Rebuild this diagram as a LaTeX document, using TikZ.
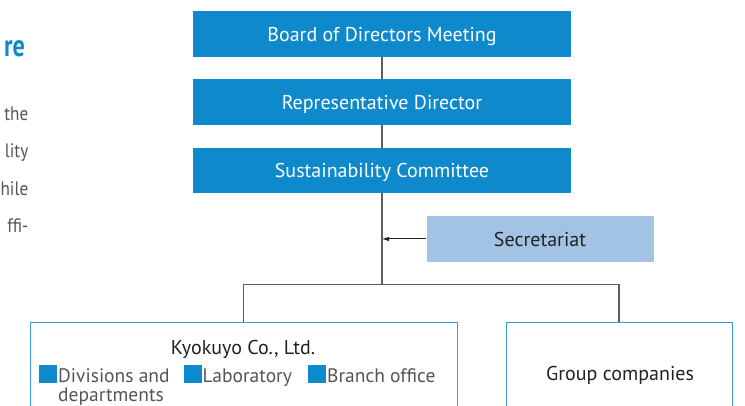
\documentclass[tikz,border=0pt]{standalone}
\usepackage{fontspec}
\setmainfont{PT Sans}
\usetikzlibrary{arrows.meta}
\definecolor{kblue}{HTML}{0E89CB}
\definecolor{ksec}{HTML}{A3C3E5}
\definecolor{kline}{HTML}{5E5E5E}
\definecolor{kborder}{HTML}{3A9AD9}
\definecolor{ktext}{HTML}{222222}
\definecolor{kgrey}{HTML}{555555}
\tikzset{
  mainbox/.style={fill=kblue, draw=none, text=white, minimum width=378pt, minimum height=45.5pt, inner sep=0pt, text height=15pt, text depth=0pt, font=\fontsize{20}{24}\selectfont},
  secbox/.style={fill=ksec, draw=none, text=ktext, minimum width=227pt, minimum height=46pt, inner sep=0pt, text height=14.5pt, text depth=0pt, font=\fontsize{20}{24}\selectfont},
  unitbox/.style={draw=kborder, line width=1pt, fill=white, inner sep=0pt},
  conn/.style={draw=kline, line width=1.3pt},
  arr/.style={draw=ktext, line width=1pt, -{Latex[length=7pt,width=4.5pt]}},
  legsq/.style={fill=kblue, draw=none, minimum width=17.5pt, minimum height=17.5pt, inner sep=0pt},
  legtxt/.style={text=kgrey, inner sep=0pt, anchor=base west, font=\fontsize{19.5}{18}\selectfont},
  unittxt/.style={text=ktext, inner sep=0pt, anchor=base, font=\fontsize{20}{24}\selectfont},
  sidetxt/.style={text=kgrey, inner sep=0pt, anchor=base east, font=\fontsize{19.5}{24}\selectfont},
}
\begin{document}
\begin{tikzpicture}[x=1pt,y=-1pt]
\useasboundingbox (0,0) rectangle (745,406);
\clip (0,0) rectangle (745,406);
% clipped page text on the left
\node[inner sep=0pt, anchor=base east, text=kblue, font=\fontsize{31}{31}\selectfont\bfseries] (head) at (25,56.5) {\scalebox{0.78}[1]{re}};
\node[sidetxt] (s1) at (28.5,120.5) {\scalebox{0.88}[1]{the}};
\node[sidetxt] (s2) at (28.5,158) {\scalebox{0.88}[1]{lity}};
\node[sidetxt] (s3) at (28.5,195.5) {\scalebox{0.88}[1]{hile}};
\node[sidetxt] (s4) at (28.5,233) {\scalebox{0.88}[1]{ffi-}};
% hierarchy
\node[mainbox] (board) at (382,34) {Board of Directors Meeting};
\node[mainbox] (rep) at (382,102) {Representative Director};
\node[mainbox] (sust) at (382,170.5) {Sustainability Committee};
\node[secbox] (sec) at (540,239) {Secretariat};
\coordinate (j) at (382,284.5);
% lower units
\node[unitbox, minimum width=427.5pt, minimum height=110pt] (kyo) at (243.75,378) {};
\node[unitbox, minimum width=226pt, minimum height=110pt] (grp) at (619,378) {};
\node[unittxt] (kyot) at (243,355) {Kyokuyo Co., Ltd.};
\node[unittxt] (grpt) at (620,381) {Group companies};
\node[legsq] (q1) at (47.75,374) {};
\node[legsq] (q2) at (192.75,374) {};
\node[legsq] (q3) at (316.75,374) {};
\node[legtxt] (l1a) at (58,382.5) {Divisions and};
\node[legtxt] (l1b) at (58,401.5) {departments};
\node[legtxt] (l2) at (202.5,382.5) {Laboratory};
\node[legtxt] (l3) at (327,382.5) {Branch office};
% connectors
\draw[conn] (board.south) -- (rep.north);
\draw[conn] (rep.south) -- (sust.north);
\draw[conn] (sust.south) -- (j);
\draw[conn] (kyo.north) |- (j) -| (grp.north);
\draw[arr] (sec.west) -- (sec.west -| j);
\end{tikzpicture}
\end{document}
